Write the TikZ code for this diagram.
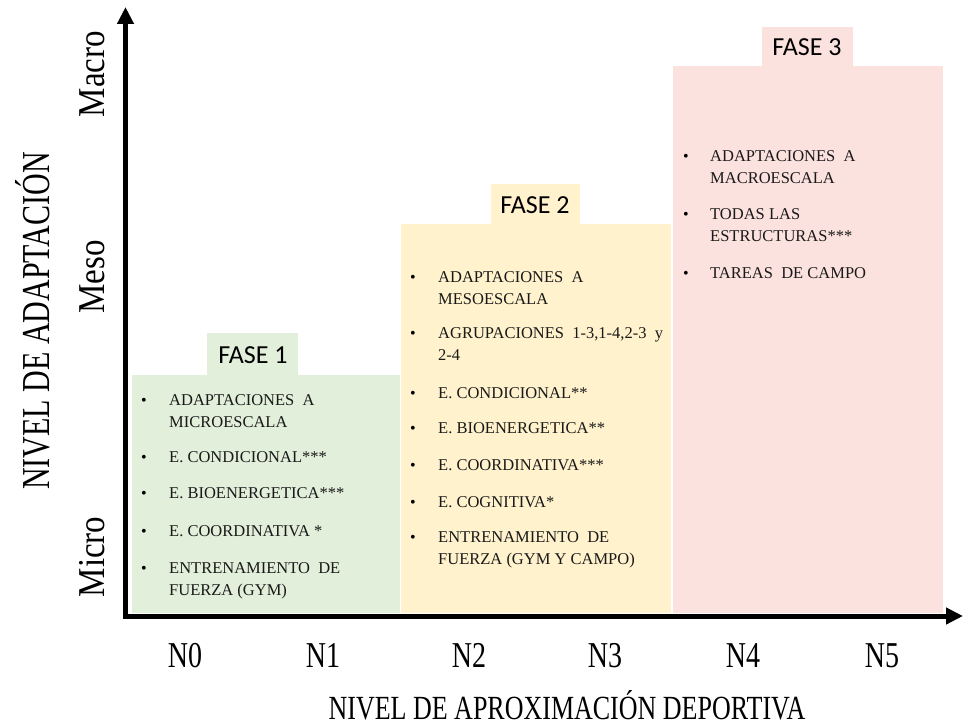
\documentclass[tikz,border=0pt]{standalone}
\usepackage{fontspec}
\setmainfont{Liberation Serif}
\newfontfamily\calibri{Carlito}
\usetikzlibrary{arrows.meta}

\definecolor{verdefase}{HTML}{E2EFDA}
\definecolor{amarillofase}{HTML}{FFF2CC}
\definecolor{rosafase}{HTML}{FCE2DE}
\newcommand{\alto}[2]{\scalebox{1}[#1]{#2}}

\tikzset{
  punto/.style={anchor=base,inner sep=0pt,font=\fontsize{16}{22}\selectfont},
  item/.style={anchor=base west,align=left,inner sep=0pt,text=black!90,font=\fontsize{16.5}{22}\selectfont},
  fase/.style={anchor=base,inner sep=0pt,font=\calibri\fontsize{26}{30}\selectfont},
  nivel/.style={anchor=base,inner sep=0pt,font=\fontsize{28}{30}\selectfont},
  escala/.style={rotate=90,inner sep=0pt,font=\fontsize{33}{36}\selectfont},
  eje/.style={line width=5pt,{Triangle[length=17pt,width=16pt]}-{Triangle[length=17pt,width=16pt]}}
}

\begin{document}
\begin{tikzpicture}[x=1pt,y=-1pt]
\useasboundingbox (0,0) rectangle (963,727);

\coordinate (O) at (125.5,616);
\coordinate (ytop) at (125.5,7);
\coordinate (xend) at (963,616);

% cajas
\fill[verdefase] (132,375) rectangle (400,613);
\fill[verdefase] (207,333) rectangle (298,375);
\fill[amarillofase] (401,224) rectangle (671,613);
\fill[amarillofase] (491,184) rectangle (580,224);
\fill[rosafase] (673,66) rectangle (943,613);
\fill[rosafase] (762,27) rectangle (853,66);

\draw[eje] (ytop) -- (O) -- (xend);

\node[fase] (f1) at (253,363) {FASE 1};
\node[fase] (f2) at (535,214) {FASE 2};
\node[fase] (f3) at (807,56) {FASE 3};

% fase 1 (items de dos lineas: base en la segunda linea)
\node[punto] (p11) at (144,405) {•};
\node[item] (i11) at (169,427) {ADAPTACIONES\ \ A\\MICROESCALA};
\node[punto] (p12) at (144,462) {•};
\node[item] (i12) at (169,462) {E. CONDICIONAL***};
\node[punto] (p13) at (144,498) {•};
\node[item] (i13) at (169,498) {E. BIOENERGETICA***};
\node[punto] (p14) at (144,536) {•};
\node[item] (i14) at (169,536) {E. COORDINATIVA *};
\node[punto] (p15) at (144,573) {•};
\node[item] (i15) at (169,595) {ENTRENAMIENTO\ \ DE\\FUERZA (GYM)};

% fase 2
\node[punto] (p21) at (413,282) {•};
\node[item] (i21) at (438,304) {ADAPTACIONES\ \ A\\MESOESCALA};
\node[punto] (p22) at (413,338) {•};
\node[item] (i22) at (438,360) {AGRUPACIONES\ \ 1-3,1-4,2-3\ \ y\\2-4};
\node[punto] (p23) at (413,398) {•};
\node[item] (i23) at (438,398) {E. CONDICIONAL**};
\node[punto] (p24) at (413,433) {•};
\node[item] (i24) at (438,433) {E. BIOENERGETICA**};
\node[punto] (p25) at (413,470) {•};
\node[item] (i25) at (438,470) {E. COORDINATIVA***};
\node[punto] (p26) at (413,507) {•};
\node[item] (i26) at (438,507) {E. COGNITIVA*};
\node[punto] (p27) at (413,542) {•};
\node[item] (i27) at (438,564) {ENTRENAMIENTO\ \ DE\\FUERZA (GYM Y CAMPO)};

% fase 3
\node[punto] (p31) at (686,162) {•};
\node[item] (i31) at (710,184) {ADAPTACIONES\ \ A\\MACROESCALA};
\node[punto] (p32) at (686,220) {•};
\node[item] (i32) at (710,242) {TODAS LAS\\ESTRUCTURAS***};
\node[punto] (p33) at (686,278) {•};
\node[item] (i33) at (710,278) {TAREAS\ \ DE CAMPO};

% ejes
\node[escala] (macro) at (92,74) {\alto{1.15}{Macro}};
\node[escala] (meso) at (92,277) {\alto{1.15}{Meso}};
\node[escala] (micro) at (92,557) {\alto{1.15}{Micro}};
\node[rotate=90,inner sep=0pt,font=\fontsize{30}{32}\selectfont] (ylab) at (33,321) {\alto{1.32}{NIVEL DE ADAPTACIÓN}};

\node[nivel] (n0) at (185,667) {\alto{1.3}{N0}};
\node[nivel] (n1) at (323,667) {\alto{1.3}{N1}};
\node[nivel] (n2) at (469,667) {\alto{1.3}{N2}};
\node[nivel] (n3) at (605,667) {\alto{1.3}{N3}};
\node[nivel] (n4) at (743,667) {\alto{1.3}{N4}};
\node[nivel] (n5) at (882,667) {\alto{1.3}{N5}};
\node[anchor=base,inner sep=0pt,font=\fontsize{26}{28}\selectfont] (xlab) at (567,719) {\alto{1.3}{NIVEL DE APROXIMACIÓN DEPORTIVA}};

\end{tikzpicture}
\end{document}
